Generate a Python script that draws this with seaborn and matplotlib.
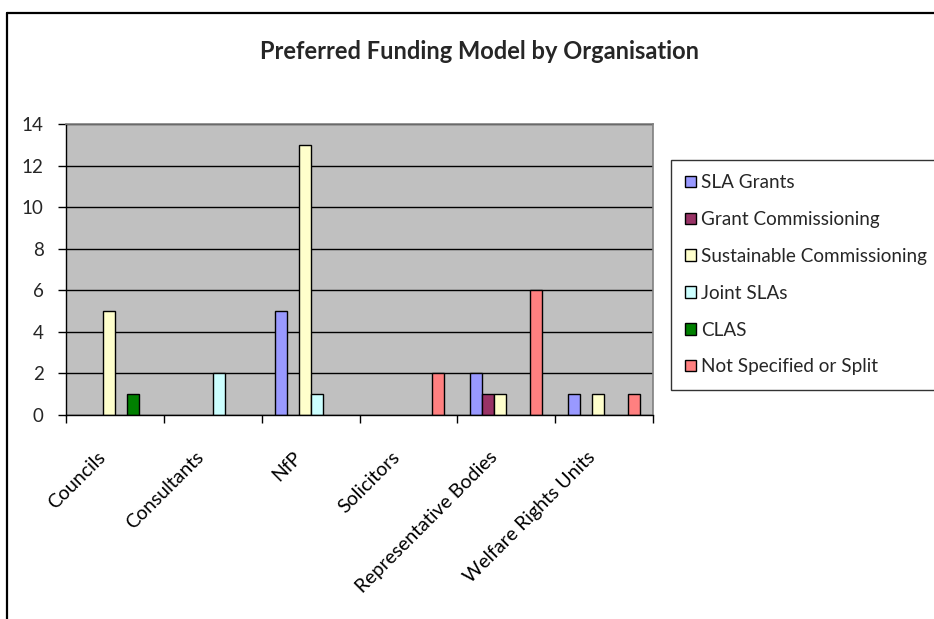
import matplotlib
matplotlib.use("Agg")
import matplotlib.pyplot as plt
import matplotlib.transforms as mtransforms
from matplotlib.lines import Line2D
from matplotlib.patches import Patch
import seaborn as sns
import pandas as pd

categories = ["Councils", "Consultants", "NfP", "Solicitors",
              "Representative Bodies", "Welfare Rights Units"]
series = ["SLA Grants", "Grant Commissioning", "Sustainable Commissioning",
          "Joint SLAs", "CLAS", "Not Specified or Split"]
sla_grants = [0, 0, 5, 0, 2, 1]
grant_commissioning = [0, 0, 0, 0, 1, 0]
sustainable_commissioning = [5, 0, 13, 0, 1, 1]
joint_slas = [0, 2, 1, 0, 0, 0]
clas = [1, 0, 0, 0, 0, 0]
not_specified = [0, 0, 0, 2, 6, 1]
colors = ["#9999FF", "#993366", "#FFFFCC", "#CCFFFF", "#008000", "#FF8080"]
y_ticks = [0, 2, 4, 6, 8, 10, 12, 14]

values = [sla_grants, grant_commissioning, sustainable_commissioning,
          joint_slas, clas, not_specified]
rows = []
for name, vals in zip(series, values):
    for cat, v in zip(categories, vals):
        rows.append({"Organisation": cat, "Model": name, "Count": v})
df = pd.DataFrame(rows)

sns.set_theme(style="white")
plt.rcParams["font.family"] = ["Lato", "DejaVu Sans"]

fig = plt.figure(figsize=(9.34, 6.19), dpi=100)
ax = fig.add_axes([0.0707, 0.3296, 0.6285, 0.4701])
ax.set_facecolor("#C0C0C0")

sns.barplot(data=df, x="Organisation", y="Count", hue="Model",
            order=categories, hue_order=series, palette=colors,
            width=0.735, edgecolor="black", linewidth=1.0,
            saturation=1, errorbar=None, ax=ax, legend=False)

# Zero-count bars are not drawn
for p in ax.patches:
    if p.get_height() == 0:
        p.set_visible(False)

ax.set_xlim(-0.5, len(categories) - 0.5)
ax.set_ylim(0, 14)
ax.set_yticks(y_ticks)
ax.set_yticklabels([str(t) for t in y_ticks], fontsize=13.5)
ax.yaxis.grid(True, color="black", linewidth=1.0)
ax.set_axisbelow(True)
ax.tick_params(axis="y", direction="out", length=6, width=1, color="black",
               pad=10, left=True)

# Category boundary ticks on the x axis
ax.set_xticks([i - 0.5 for i in range(len(categories) + 1)])
ax.set_xticklabels([])
ax.tick_params(axis="x", direction="out", length=6, width=1, color="black",
               bottom=True)
ax.set_xlabel("")
ax.set_ylabel("")

for side in ["top", "right"]:
    ax.spines[side].set_visible(True)
    ax.spines[side].set_color("#808080")
    ax.spines[side].set_linewidth(1.2)
for side in ["left", "bottom"]:
    ax.spines[side].set_color("black")
    ax.spines[side].set_linewidth(1.0)

# Rotated category labels, ending just left of each group centre
trans = mtransforms.blended_transform_factory(ax.transData, ax.transAxes)
for i, cat in enumerate(categories):
    ax.text(i - 0.12, -0.135, cat, transform=trans,
            rotation=45, rotation_mode="anchor", ha="right", va="center",
            fontsize=14, color="black")

# Legend
handles = [Patch(facecolor=c, edgecolor="black", linewidth=1.0) for c in colors]
leg = fig.legend(handles, series, loc="upper left",
                 bbox_to_anchor=(0.7184, 0.7415), frameon=True,
                 fancybox=False, edgecolor="black", fontsize=13.6,
                 handlelength=0.55, handleheight=0.55, handletextpad=0.3,
                 labelspacing=1.05, borderpad=0.75, borderaxespad=0)
leg.get_frame().set_linewidth(1.0)

fig.suptitle("Preferred Funding Model by Organisation", x=0.5134, y=0.916,
             va="center", fontsize=17, fontweight="bold")

# Chart area outline
fig.add_artist(Line2D([0.0075, 1.0], [0.979, 0.979], transform=fig.transFigure,
                      color="black", linewidth=1.6))
fig.add_artist(Line2D([0.0075, 0.0075], [0.0, 0.979], transform=fig.transFigure,
                      color="black", linewidth=1.6))

fig.savefig("out.png", dpi=100, facecolor="white")
